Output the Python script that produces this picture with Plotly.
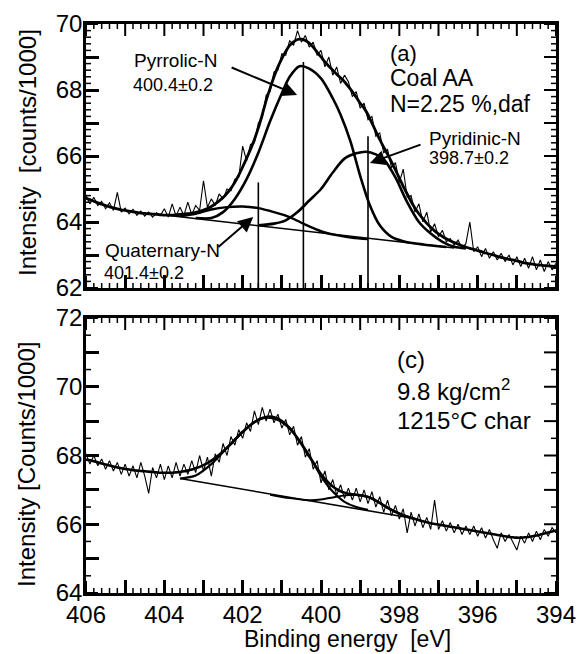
import plotly.graph_objects as go

# ---------------- data ----------------
E_GRID = [
    406.0, 405.9, 405.8, 405.7, 405.6, 405.5, 405.4, 405.3, 405.2, 405.1,
    405.0, 404.9, 404.8, 404.7, 404.6, 404.5, 404.4, 404.3, 404.2, 404.1,
    404.0, 403.9, 403.8, 403.7, 403.6, 403.5, 403.4, 403.3, 403.2, 403.1,
    403.0, 402.9, 402.8, 402.7, 402.6, 402.5, 402.4, 402.3, 402.2, 402.1,
    402.0, 401.9, 401.8, 401.7, 401.6, 401.5, 401.4, 401.3, 401.2, 401.1,
    401.0, 400.9, 400.8, 400.7, 400.6, 400.5, 400.4, 400.3, 400.2, 400.1,
    400.0, 399.9, 399.8, 399.7, 399.6, 399.5, 399.4, 399.3, 399.2, 399.1,
    399.0, 398.9, 398.8, 398.7, 398.6, 398.5, 398.4, 398.3, 398.2, 398.1,
    398.0, 397.9, 397.8, 397.7, 397.6, 397.5, 397.4, 397.3, 397.2, 397.1,
    397.0, 396.9, 396.8, 396.7, 396.6, 396.5, 396.4, 396.3, 396.2, 396.1,
    396.0, 395.9, 395.8, 395.7, 395.6, 395.5, 395.4, 395.3, 395.2, 395.1,
    395.0, 394.9, 394.8, 394.7, 394.6, 394.5, 394.4, 394.3, 394.2, 394.1,
    394.0,
]

# (a) Coal AA : measured spectrum and fitted envelope
A_RAW = [
    64.80, 64.55, 64.75, 64.50, 64.62, 64.40, 64.58, 64.35, 64.90, 64.30,
    64.42, 64.25, 64.38, 64.20, 64.33, 64.18, 64.30, 64.15, 64.28, 64.20,
    64.40, 64.15, 64.55, 64.18, 64.45, 64.20, 64.60, 64.22, 64.50, 64.35,
    65.25, 64.45, 64.70, 64.50, 64.85, 64.70, 65.00, 64.95, 65.30, 65.35,
    66.30, 65.85, 66.35, 66.40, 67.00, 67.15, 67.85, 67.95, 68.55, 68.60,
    69.10, 69.05, 69.50, 69.35, 69.80, 69.45, 69.65, 69.30, 69.45, 69.05,
    69.20, 68.70, 69.00, 68.45, 68.70, 68.20, 68.45, 68.25, 67.80, 67.95,
    67.45, 67.60, 67.10, 67.20, 66.60, 66.70, 66.10, 66.20, 65.65, 65.80,
    65.20, 65.60, 64.75, 64.80, 64.30, 64.55, 64.00, 64.30, 63.70, 63.95,
    63.55, 63.75, 63.40, 63.50, 63.30, 63.45, 63.20, 63.35, 64.00, 63.10,
    63.25, 62.95, 63.20, 62.90, 63.10, 62.85, 63.05, 62.80, 63.00, 62.70,
    62.95, 62.65, 62.90, 62.60, 62.95, 62.55, 62.85, 62.50, 62.80, 62.55,
    62.75,
]
A_FIT = [
    64.72, 64.68, 64.63, 64.58, 64.54, 64.50, 64.46, 64.43, 64.40, 64.37,
    64.35, 64.33, 64.31, 64.29, 64.27, 64.26, 64.25, 64.24, 64.23, 64.22,
    64.21, 64.21, 64.21, 64.22, 64.23, 64.24, 64.25, 64.27, 64.29, 64.32,
    64.36, 64.41, 64.47, 64.55, 64.64, 64.74, 64.87, 65.02, 65.20, 65.42,
    65.67, 65.93, 66.20, 66.50, 66.85, 67.25, 67.68, 68.05, 68.40, 68.70,
    68.95, 69.17, 69.35, 69.46, 69.53, 69.54, 69.50, 69.42, 69.30, 69.15,
    69.00, 68.85, 68.72, 68.60, 68.48, 68.37, 68.25, 68.10, 67.95, 67.78,
    67.60, 67.45, 67.25, 67.00, 66.75, 66.50, 66.27, 66.05, 65.82, 65.58,
    65.33, 65.08, 64.85, 64.62, 64.42, 64.25, 64.10, 63.96, 63.84, 63.73,
    63.64, 63.56, 63.49, 63.43, 63.38, 63.33, 63.28, 63.24, 63.20, 63.17,
    63.13, 63.10, 63.06, 63.03, 63.00, 62.96, 62.93, 62.90, 62.87, 62.85,
    62.82, 62.79, 62.76, 62.74, 62.72, 62.70, 62.69, 62.68, 62.67, 62.66,
    62.65,
]

# (a) fitted components
PYRROLIC_E = [403.2, 402.8, 402.5, 402.2, 401.9, 401.6, 401.3, 401.0, 400.8, 400.55,
              400.3, 400.0, 399.7, 399.5, 399.25, 399.0, 398.75, 398.5, 398.2, 397.9,
              397.4, 396.8]
PYRROLIC_I = [64.12, 64.12, 64.30, 64.70, 65.30, 66.10, 67.05, 67.90, 68.40, 68.72,
              68.65, 68.35, 67.75, 67.25, 66.45, 65.40, 64.50, 63.90, 63.55, 63.42,
              63.32, 63.24]
PYRIDINIC_E = [401.6, 401.2, 400.9, 400.6, 400.3, 400.0, 399.7, 399.4, 399.1, 398.85,
               398.6, 398.4, 398.1, 397.8, 397.5, 397.2, 396.9, 396.6, 396.3]
PYRIDINIC_I = [63.90, 63.95, 64.05, 64.30, 64.65, 65.00, 65.50, 65.92, 66.08, 66.13,
               66.05, 65.90, 65.35, 64.60, 64.00, 63.65, 63.40, 63.25, 63.20]
QUATERNARY_E = [403.6, 403.2, 402.8, 402.4, 402.0, 401.6, 401.2, 400.8, 400.4, 400.0,
                399.6, 399.2, 398.8]
QUATERNARY_I = [64.18, 64.25, 64.38, 64.45, 64.47, 64.42, 64.30, 64.15, 63.92, 63.72,
                63.60, 63.52, 63.48]
BASELINE_A_E = [404.0, 396.6]
BASELINE_A_I = [64.21, 63.21]

# (a) peak position markers
PEAK_LINE_E = [401.6, 400.45, 398.8]
PEAK_LINE_TOP = [65.2, 68.85, 66.6]

# (c) 1215 C char : measured spectrum and fitted envelope
C_RAW = [
    68.05, 67.75, 68.00, 67.70, 67.90, 67.60, 67.85, 67.55, 67.80, 67.45,
    67.75, 67.40, 67.70, 67.35, 67.80, 67.40, 66.90, 67.65, 67.35, 67.75,
    67.30, 67.70, 67.35, 67.80, 67.40, 67.75, 67.45, 67.85, 67.50, 68.00,
    67.55, 67.95, 67.40, 68.05, 67.80, 68.35, 68.00, 68.55, 68.30, 68.75,
    68.50, 68.95, 68.70, 69.30, 68.90, 69.40, 69.00, 69.35, 68.95, 69.20,
    68.80, 69.05, 68.60, 68.85, 68.30, 68.55, 67.95, 68.20, 67.60, 67.85,
    67.20, 67.55, 67.00, 67.30, 66.85, 67.15, 66.75, 67.05, 66.70, 67.05,
    66.65, 67.00, 66.60, 66.95, 66.50, 66.80, 66.35, 66.70, 66.25, 66.55,
    66.15, 66.45, 65.75, 66.35, 65.95, 66.30, 65.90, 66.20, 65.85, 66.70,
    65.85, 66.10, 65.80, 66.05, 65.75, 66.00, 65.70, 65.95, 65.70, 65.95,
    65.65, 65.90, 65.60, 65.85, 65.55, 65.30, 65.75, 65.50, 65.70, 65.45,
    65.25, 65.65, 65.45, 65.75, 65.50, 65.80, 65.55, 65.85, 65.65, 65.90,
    65.75,
]
C_FIT = [
    67.88, 67.86, 67.83, 67.80, 67.77, 67.74, 67.71, 67.68, 67.65, 67.63,
    67.61, 67.59, 67.57, 67.56, 67.55, 67.54, 67.53, 67.52, 67.51, 67.50,
    67.50, 67.50, 67.50, 67.51, 67.52, 67.54, 67.56, 67.59, 67.63, 67.67,
    67.72, 67.78, 67.85, 67.93, 68.02, 68.12, 68.23, 68.34, 68.46, 68.58,
    68.69, 68.79, 68.89, 68.97, 69.04, 69.09, 69.12, 69.13, 69.11, 69.07,
    69.00, 68.91, 68.80, 68.66, 68.50, 68.33, 68.15, 67.97, 67.80, 67.62,
    67.46, 67.32, 67.20, 67.10, 67.02, 66.96, 66.92, 66.89, 66.87, 66.86,
    66.84, 66.82, 66.79, 66.75, 66.69, 66.62, 66.55, 66.48, 66.42, 66.36,
    66.31, 66.26, 66.22, 66.18, 66.15, 66.12, 66.09, 66.06, 66.03, 66.01,
    65.99, 65.97, 65.95, 65.93, 65.91, 65.89, 65.87, 65.85, 65.83, 65.81,
    65.79, 65.77, 65.75, 65.73, 65.71, 65.69, 65.67, 65.65, 65.63, 65.62,
    65.61, 65.61, 65.62, 65.63, 65.65, 65.67, 65.70, 65.73, 65.76, 65.79,
    65.82,
]
C_MAIN_E = [403.6, 403.2, 402.8, 402.4, 402.0, 401.7, 401.4, 401.1, 400.8, 400.5,
            400.2, 400.0, 399.7, 399.4, 399.1, 398.8]
C_MAIN_I = [67.33, 67.42, 67.75, 68.22, 68.68, 68.97, 69.10, 69.03, 68.78, 68.35,
            67.80, 67.40, 66.95, 66.65, 66.50, 66.42]
C_MINOR_E = [401.3, 400.8, 400.3, 400.0, 399.7, 399.4, 399.1, 398.8, 398.5, 398.2,
             397.9, 397.6]
C_MINOR_I = [66.86, 66.76, 66.70, 66.72, 66.78, 66.84, 66.86, 66.80, 66.62, 66.42,
             66.27, 66.16]
BASELINE_C_E = [403.6, 397.7]
BASELINE_C_I = [67.33, 66.18]

# ---------------- tick labels ----------------
X_TICKS = [406, 405, 404, 403, 402, 401, 400, 399, 398, 397, 396, 395, 394]
X_TICKTEXT = ["406", "", "404", "", "402", "", "400", "", "398", "", "396", "", "394"]
YA_TICKS = [62, 63, 64, 65, 66, 67, 68, 69, 70]
YA_TICKTEXT = ["62", "", "64", "", "66", "", "68", "", "70"]
YC_TICKS = [64, 65, 66, 67, 68, 69, 70, 71, 72]
YC_TICKTEXT = ["64", "", "66", "", "68", "", "70", "", "72"]

# ---------------- styling ----------------
W, H = 586, 654
FONT = "Liberation Sans, Arial, Helvetica, sans-serif"
INK = "black"
X_DOM = [86 / W, 556 / W]
YA_DOM = [1 - 288 / H, 1 - 24 / H]
YC_DOM = [1 - 593 / H, 1 - 318 / H]
XR = [406, 394]
YAR = [62, 70]
YCR = [64, 72]


def pxx(x):
    return x / W


def pyy(y):
    return 1 - y / H


fig = go.Figure()


def line(x, y, width, xa, ya, shape="spline"):
    fig.add_trace(go.Scatter(
        x=x, y=y, mode="lines", xaxis=xa, yaxis=ya, showlegend=False,
        hoverinfo="skip",
        line=dict(color=INK, width=width, shape=shape,
                  smoothing=0.8 if shape == "spline" else None),
    ))


# panel (a)
line(E_GRID, A_RAW, 1.1, "x", "y", shape="linear")
line(E_GRID, A_FIT, 2.8, "x", "y")
line(PYRROLIC_E, PYRROLIC_I, 2.6, "x", "y")
line(PYRIDINIC_E, PYRIDINIC_I, 2.6, "x", "y")
line(QUATERNARY_E, QUATERNARY_I, 2.4, "x", "y")
line(BASELINE_A_E, BASELINE_A_I, 1.6, "x", "y", shape="linear")
for e, top in zip(PEAK_LINE_E, PEAK_LINE_TOP):
    line([e, e], [62, top], 1.6, "x", "y", shape="linear")

# panel (c)
line(E_GRID, C_RAW, 1.1, "x2", "y2", shape="linear")
line(E_GRID, C_FIT, 2.6, "x2", "y2")
line(C_MAIN_E, C_MAIN_I, 2.2, "x2", "y2")
line(C_MINOR_E, C_MINOR_I, 2.0, "x2", "y2")
line(BASELINE_C_E, BASELINE_C_I, 1.6, "x2", "y2", shape="linear")


# ---- inward tick marks on all four sides, built from the axis tick positions ----
def frame_ticks(xa, ya, yr, ymaj, ystep, maj_px, min_px, width_maj, width_min):
    px_per_x = (X_DOM[1] - X_DOM[0]) * W / abs(XR[1] - XR[0])
    px_per_y = (yr[1] - yr[0]) and ((YA_DOM if ya == "y" else YC_DOM)[1]
                                    - (YA_DOM if ya == "y" else YC_DOM)[0]) * H / (yr[1] - yr[0])
    x_min = [round(XR[1] + 0.2 * i, 2) for i in range(int(round((XR[0] - XR[1]) / 0.2)) + 1)]
    x_min = [v for v in x_min if abs(v - round(v)) > 1e-6]
    y_min = [round(yr[0] + ystep * i, 2) for i in range(int(round((yr[1] - yr[0]) / ystep)) + 1)]
    y_min = [v for v in y_min if abs(v - round(v)) > 1e-6]
    for xs_vals, ys_vals, plen, w in ((X_TICKS, ymaj, maj_px, width_maj),
                                      (x_min, y_min, min_px, width_min)):
        dy = plen / px_per_y
        dx = plen / px_per_x
        xs, ys = [], []
        for v in xs_vals:
            xs += [v, v, None, v, v, None]
            ys += [yr[0], yr[0] + dy, None, yr[1], yr[1] - dy, None]
        for v in ys_vals:
            xs += [XR[0], XR[0] - dx, None, XR[1], XR[1] + dx, None]
            ys += [v, v, None, v, v, None]
        fig.add_trace(go.Scatter(x=xs, y=ys, mode="lines", xaxis=xa, yaxis=ya,
                                 showlegend=False, hoverinfo="skip",
                                 line=dict(color=INK, width=w)))


frame_ticks("x", "y", YAR, YA_TICKS, 0.2, 12, 5, 2, 1.5)
frame_ticks("x2", "y2", YCR, YC_TICKS, 0.5, 12, 5, 2, 1.5)

tickfont = dict(family=FONT, size=24, color=INK)


def major_axis(rng, dom, anchor, vals, text, show, standoff):
    return dict(
        range=rng, domain=dom, anchor=anchor,
        showline=True, linecolor=INK, linewidth=2.5, mirror=True,
        ticks="inside", ticklen=13, tickwidth=2.5, tickcolor=INK,
        tickvals=vals, ticktext=text,
        showticklabels=show, tickfont=tickfont, ticklabelstandoff=standoff,
        showgrid=False, zeroline=False, automargin=False,
    )


ann = []


def text(s, x, y, size, xanchor="left", angle=0, yanchor="middle"):
    ann.append(dict(text=s, x=pxx(x), y=pyy(y), xref="paper", yref="paper",
                    xanchor=xanchor, yanchor=yanchor, showarrow=False, textangle=angle,
                    font=dict(family=FONT, size=size, color=INK)))


def arrow(head, tail, xa, ya):
    ann.append(dict(text="", x=head[0], y=head[1], ax=tail[0], ay=tail[1],
                    xref=xa, yref=ya, axref=xa, ayref=ya, showarrow=True,
                    arrowhead=2, arrowsize=1.5, arrowwidth=2, arrowcolor=INK,
                    standoff=0, startstandoff=0))


# panel (a) texts
text("(a)", 388, 54, 22)
text("Coal AA", 388, 78, 23)
text("N=2.25 %,daf", 388, 104, 23)
text("Pyrrolic-N", 132, 61, 19)
text("400.4±0.2", 131, 85, 18)
text("Pyridinic-N", 427, 138, 19)
text("398.7±0.2", 427, 158, 18)
text("Quaternary-N", 103, 250, 19)
text("401.4±0.2", 102, 273, 18)
arrow((400.61, 67.85), (402.32, 68.7), "x", "y")
arrow((398.75, 65.79), (397.42, 66.36), "x", "y")
arrow((401.73, 64.15), (402.66, 63.2), "x", "y")

# panel (c) texts
text("(c)", 395, 359, 24)
text("9.8 kg/cm<sup>2</sup>", 395, 390, 24)
text("1215°C char", 395, 420, 24)

# axis titles
text("Intensity\u00a0 [counts/1000]", 27, 153, 24, xanchor="center", angle=-90)
text("Intensity [Counts/1000]", 27, 465, 24, xanchor="center", angle=-90)
text("Binding energy\u00a0 [eV]", 347, 654, 23, xanchor="center", yanchor="bottom")

fig.update_layout(
    width=W, height=H, margin=dict(l=0, r=0, t=0, b=0, autoexpand=False),
    paper_bgcolor="white", plot_bgcolor="rgba(0,0,0,0)",
    xaxis=major_axis(XR, X_DOM, "y", X_TICKS, X_TICKTEXT, False, -2),
    yaxis=major_axis(YAR, YA_DOM, "x", YA_TICKS, YA_TICKTEXT, True, -4),
    xaxis2=major_axis(XR, X_DOM, "y2", X_TICKS, X_TICKTEXT, True, -2),
    yaxis2=major_axis(YCR, YC_DOM, "x2", YC_TICKS, YC_TICKTEXT, True, -4),
    annotations=ann,
    showlegend=False,
)

fig.write_html("out.html")
